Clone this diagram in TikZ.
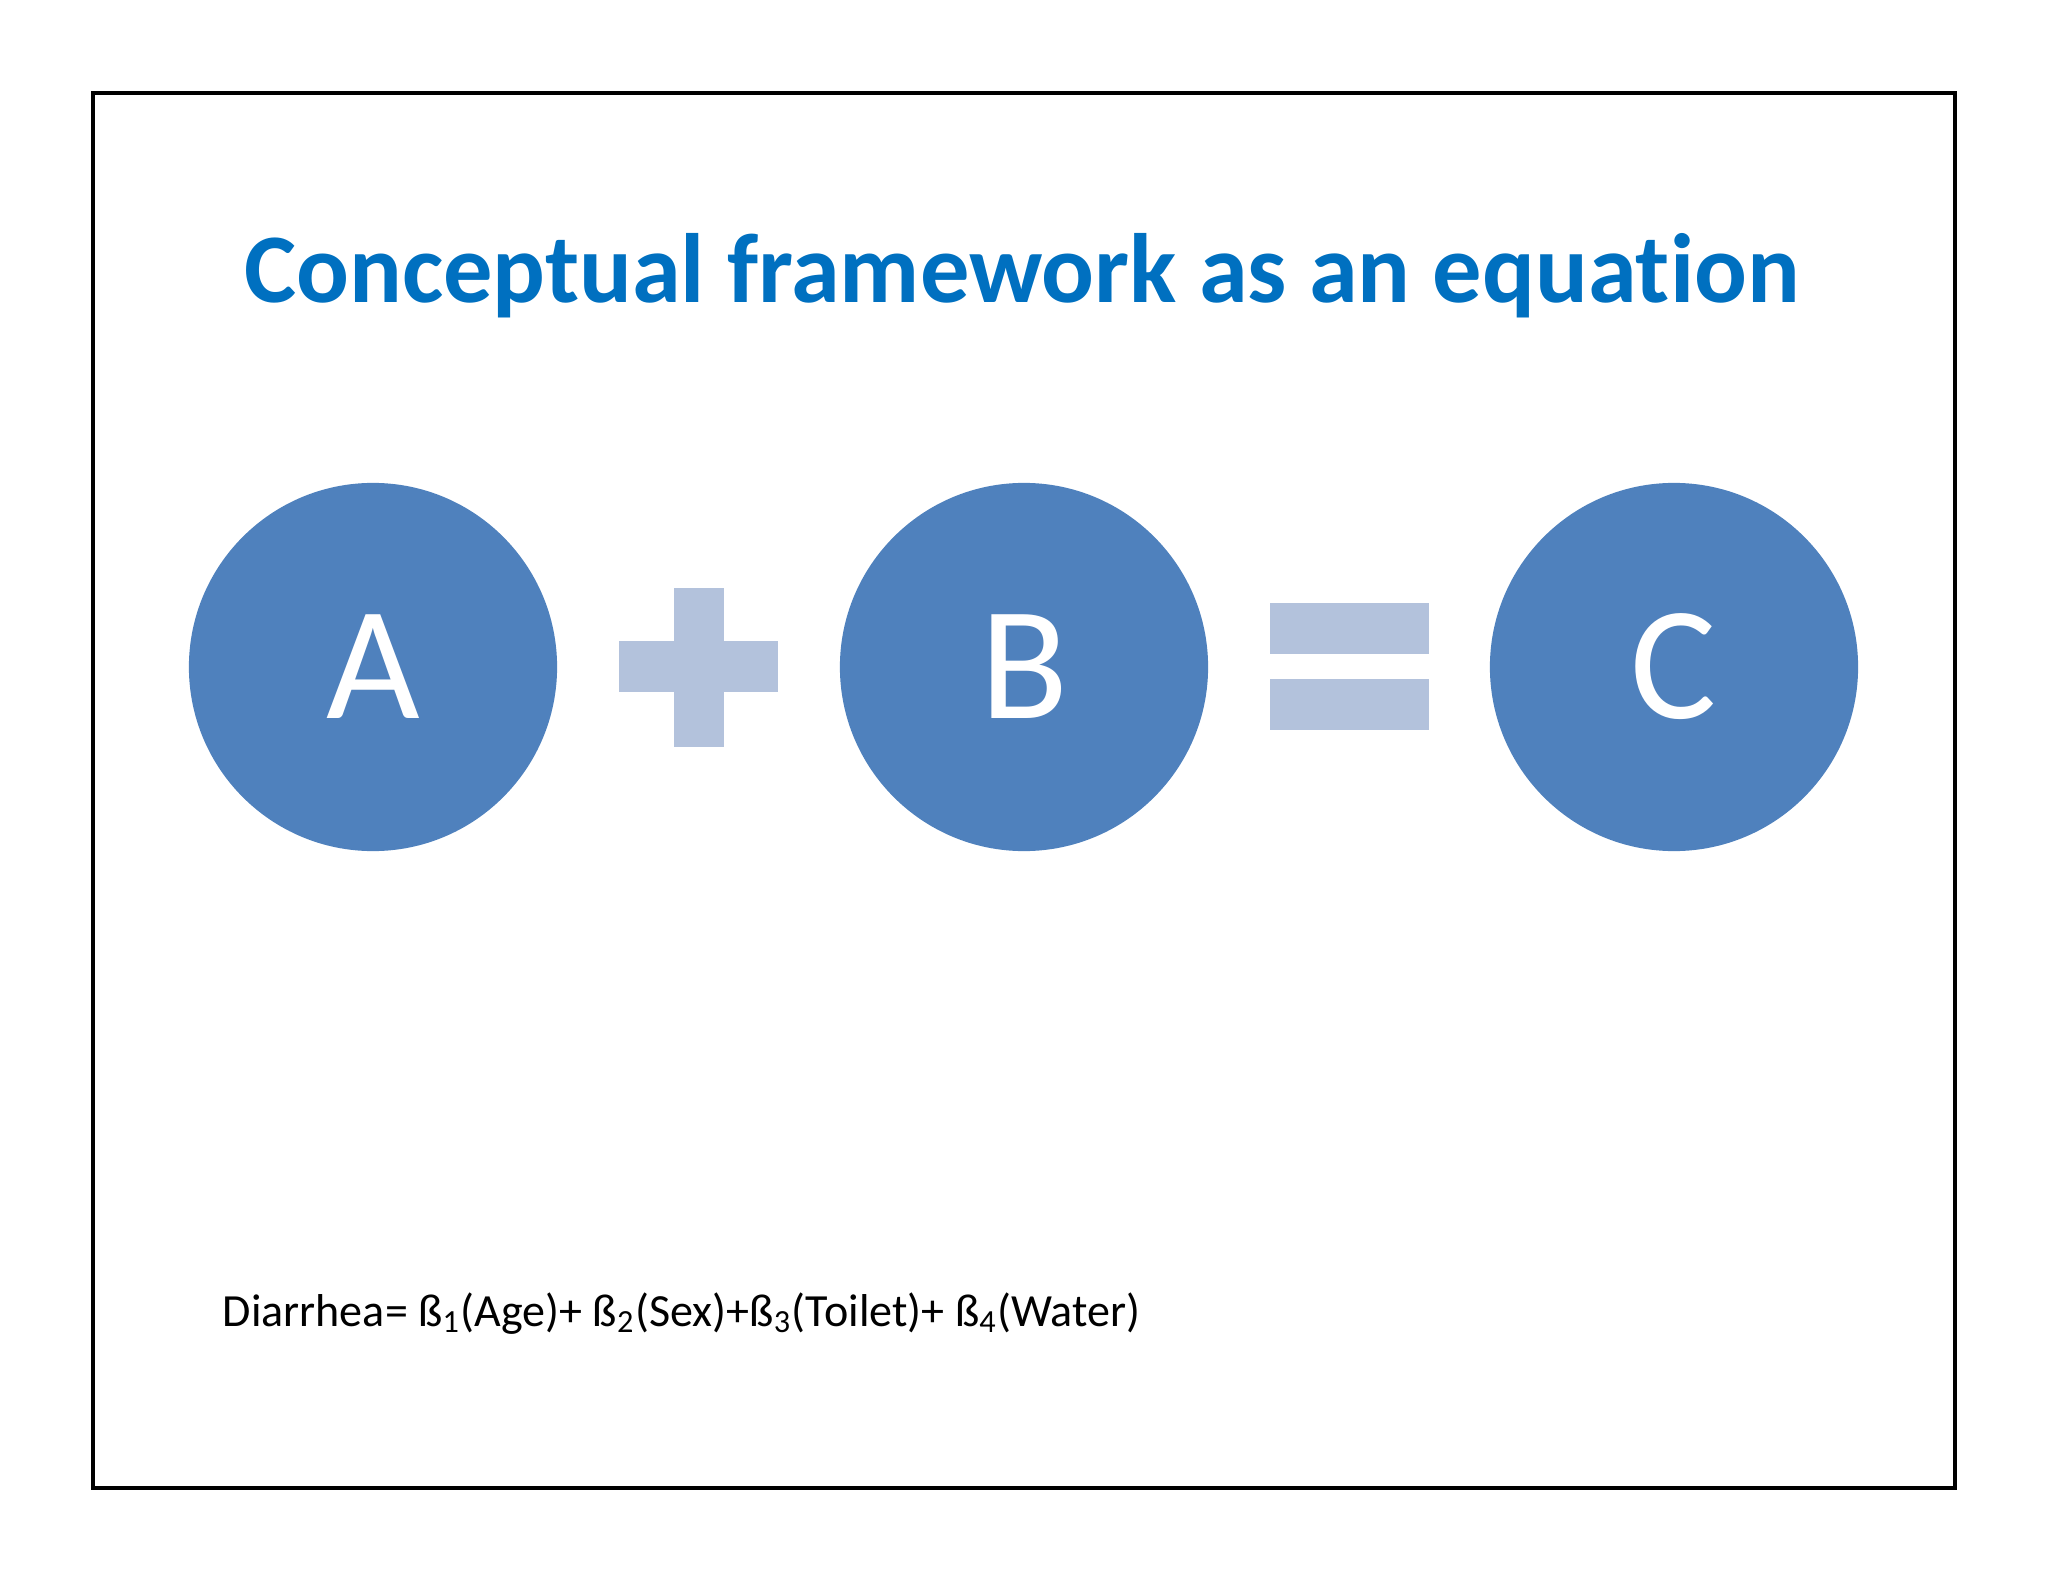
\documentclass[tikz,border=0pt]{standalone}
\usepackage{fontspec}
\setmainfont{Carlito}[Ligatures=NoCommon]
\usepackage{tikz}
\usetikzlibrary{positioning}

\definecolor{titleblue}{HTML}{0070C0}
\definecolor{circblue}{HTML}{4F81BD}
\definecolor{signblue}{HTML}{B3C2DC}

\begin{document}
\begin{tikzpicture}[x=0.01cm, y=-0.01cm,
	circ/.style={circle, fill=circblue, text=white, minimum size=3.68cm, inner sep=0pt, font=\fontsize{46}{50}\selectfont},
	sign/.style={fill=signblue},
	heading/.style={text=titleblue, font=\fontsize{28}{32}\selectfont\bfseries, anchor=base},
	formula/.style={font=\fontsize{13.1}{16}\selectfont, anchor=base west, inner sep=0pt}]
	\useasboundingbox (0,0) rectangle (2048,1582);
	\draw[line width=1.2pt] (93,93) rectangle (1955,1488);
	\node[heading] (title) at (1022,303) {Conceptual framework as an equation};
	% the three terms
	\node[circ] (A) at (373,667) {A};
	\node[circ] (B) at (1024,667) {B};
	\node[circ] (C) at (1674,667) {C};
	% plus
	\fill[sign] (619,641) rectangle (778,692);
	\fill[sign] (674,588) rectangle (724,747);
	% equals
	\fill[sign] (1270,603) rectangle (1429,654);
	\fill[sign] (1270,679) rectangle (1429,730);
	\node[formula] (eq) at (222,1326) {Diarrhea= ß\textsubscript{1}(Age)+ ß\textsubscript{2}(Sex)+ß\textsubscript{3}(Toilet)+ ß\textsubscript{4}(Water)};
\end{tikzpicture}
\end{document}
